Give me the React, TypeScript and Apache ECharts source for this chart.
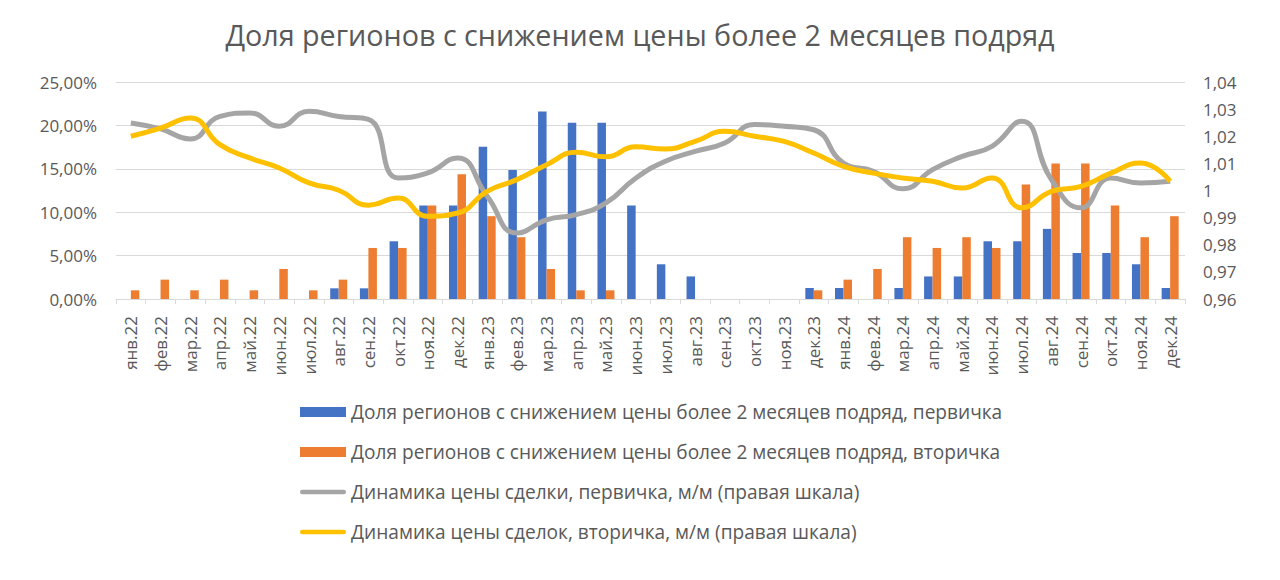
import React, { useEffect, useRef } from "react";
import * as echarts from "echarts";

const categories = [
  "янв.22", "фев.22", "мар.22", "апр.22", "май.22", "июн.22", "июл.22", "авг.22", "сен.22", "окт.22", "ноя.22", "дек.22",
  "янв.23", "фев.23", "мар.23", "апр.23", "май.23", "июн.23", "июл.23", "авг.23", "сен.23", "окт.23", "ноя.23", "дек.23",
  "янв.24", "фев.24", "мар.24", "апр.24", "май.24", "июн.24", "июл.24", "авг.24", "сен.24", "окт.24", "ноя.24", "дек.24",
];

// % of regions, primary market
const sharePrimary = [
  0, 0, 0, 0, 0, 0, 0, 1.23, 1.23, 6.65, 10.77, 10.77,
  17.54, 14.85, 21.6, 20.3, 20.3, 10.77, 4.0, 2.6, 0, 0, 0, 1.27,
  1.27, 0, 1.27, 2.6, 2.6, 6.65, 6.65, 8.08, 5.3, 5.3, 4.0, 1.27,
];

// % of regions, secondary market
const shareSecondary = [
  1.0, 2.23, 1.0, 2.23, 1.0, 3.46, 1.0, 2.23, 5.88, 5.88, 10.77, 14.38,
  9.54, 7.12, 3.46, 1.0, 1.0, 0, 0, 0, 0, 0, 0, 1.0,
  2.23, 3.46, 7.12, 5.88, 7.12, 5.88, 13.2, 15.6, 15.6, 10.77, 7.12, 9.54,
];

// price dynamics m/m, primary (right axis)
const pricePrimary = [
  1.0249, 1.0227, 1.019, 1.0273, 1.0286, 1.0237, 1.0292, 1.0273, 1.0262, 1.0046, 1.0065, 1.012,
  0.9979, 0.9843, 0.9892, 0.9911, 0.9954, 1.0045, 1.0108, 1.0144, 1.0175, 1.0243, 1.0237, 1.0224,
  1.0101, 1.0071, 1.0006, 1.0077, 1.0126, 1.0163, 1.0255, 1.004, 0.9936, 1.0046, 1.0028, 1.0034,
];

// price dynamics m/m, secondary (right axis)
const priceSecondary = [
  1.020, 1.023, 1.0267, 1.0169, 1.012, 1.0083, 1.0028, 1.0001, 0.9946, 0.9972, 0.9905, 0.9917,
  0.9997, 1.004, 1.0095, 1.0141, 1.0124, 1.0161, 1.0153, 1.0181, 1.0218, 1.020, 1.0181, 1.0138,
  1.0089, 1.0064, 1.0046, 1.0034, 1.0009, 1.0046, 0.9936, 0.9997, 1.0015, 1.0064, 1.0101, 1.0034,
];

const leftTicks = { min: 0, max: 25, interval: 5 };
const rightTicks = { min: 0.96, max: 1.04, interval: 0.01 };

const names = [
  "Доля регионов с снижением цены более 2 месяцев подряд, первичка",
  "Доля регионов с снижением цены более 2 месяцев подряд, вторичка",
  "Динамика цены сделки, первичка, м/м (правая шкала)",
  "Динамика цены сделок, вторичка, м/м (правая шкала)",
];

const FONT = "Open Sans";
const TXT = "#595959";
const LINE_ICON = "path://M2.5,0 H47.5 A2.5,2.5 0 0 1 47.5,5 H2.5 A2.5,2.5 0 0 1 2.5,0 Z M0,-2.5 H0.01 V7.5 H0 Z";

export default function App() {
  const ref = useRef<HTMLDivElement>(null);
  useEffect(() => {
    document.body.style.margin = "0";
    const chart = echarts.init(ref.current!, null, { renderer: "svg" });
    chart.setOption({
      animation: false,
      backgroundColor: "#ffffff",
      textStyle: { fontFamily: FONT },
      title: {
        text: "Доля регионов с снижением цены более 2 месяцев подряд",
        left: "center",
        top: 15,
        textStyle: { fontFamily: FONT, fontSize: 28.7, fontWeight: "normal", color: TXT },
      },
      grid: { left: 116, right: 95, top: 82, bottom: 281, containLabel: false },
      legend: {
        orient: "vertical",
        left: 295,
        top: 396,
        itemWidth: 46,
        itemHeight: 10,
        itemGap: 18,
        textStyle: { fontFamily: FONT, fontSize: 19.1, color: TXT, lineHeight: 22 },
        data: [
          { name: names[0], icon: "rect" },
          { name: names[1], icon: "rect" },
          { name: names[2], icon: LINE_ICON },
          { name: names[3], icon: LINE_ICON },
        ],
      },
      xAxis: {
        type: "category",
        data: categories,
        axisLine: { lineStyle: { color: "#d9d9d9", width: 1 } },
        axisTick: { show: true, length: 5, lineStyle: { color: "#d9d9d9" } },
        axisLabel: { rotate: 90, fontSize: 17, color: TXT, fontFamily: FONT, margin: 17, interval: 0 },
      },
      yAxis: [
        {
          type: "value",
          min: leftTicks.min,
          max: leftTicks.max,
          interval: leftTicks.interval,
          axisLine: { show: false },
          axisTick: { show: false },
          splitLine: { lineStyle: { color: "#d9d9d9", width: 1 } },
          axisLabel: {
            fontSize: 17,
            color: TXT,
            fontFamily: FONT,
            margin: 19,
            formatter: (v: number) => v.toFixed(2).replace(".", ",") + "%",
          },
        },
        {
          type: "value",
          min: rightTicks.min,
          max: rightTicks.max,
          interval: rightTicks.interval,
          axisLine: { show: false },
          axisTick: { show: false },
          splitLine: { show: false },
          axisLabel: {
            fontSize: 17,
            color: TXT,
            fontFamily: FONT,
            margin: 18,
            formatter: (v: number) => String(Number(v.toFixed(2))).replace(".", ","),
          },
        },
      ],
      series: [
        {
          name: names[0],
          type: "bar",
          data: sharePrimary,
          barWidth: 8.5,
          barGap: "0%",
          itemStyle: { color: "#4472C4" },
          z: 2,
        },
        {
          name: names[1],
          type: "bar",
          data: shareSecondary,
          barWidth: 8.5,
          barGap: "0%",
          itemStyle: { color: "#ED7D31" },
          z: 2,
        },
        {
          name: names[2],
          type: "line",
          yAxisIndex: 1,
          data: pricePrimary,
          smooth: 0.5,
          symbol: "none",
          lineStyle: { color: "#A5A5A5", width: 5 },
          itemStyle: { color: "#A5A5A5" },
          z: 3,
        },
        {
          name: names[3],
          type: "line",
          yAxisIndex: 1,
          data: priceSecondary,
          smooth: 0.5,
          symbol: "none",
          lineStyle: { color: "#FFC000", width: 5 },
          itemStyle: { color: "#FFC000" },
          z: 4,
        },
      ],
    });
    return () => chart.dispose();
  }, []);
  return <div ref={ref} style={{ width: 1280, height: 580 }} />;
}
